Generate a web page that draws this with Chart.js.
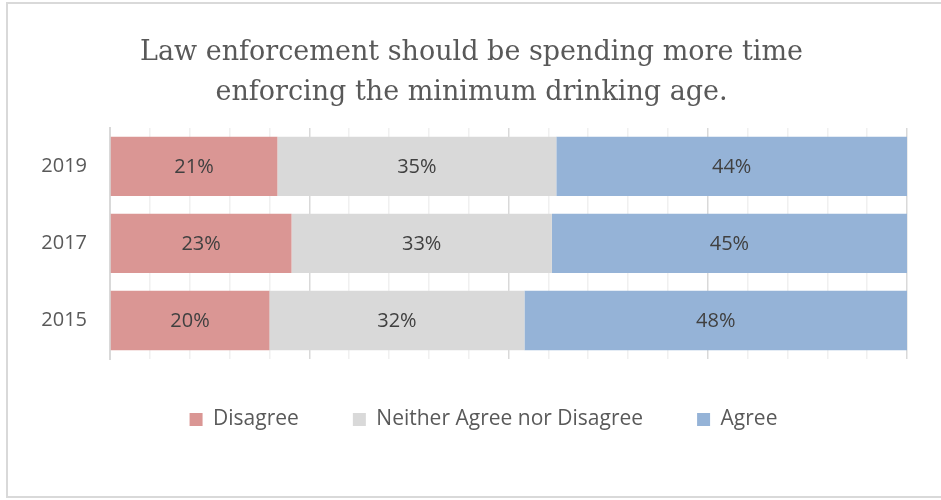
<!DOCTYPE html>
<html lang="en">
<head>
    <meta charset="UTF-8">
    <title>Minimum drinking age survey</title>
    <style>
        body { margin: 0; background: #fff; }
    </style>
</head>
<body>
    <canvas id="grafico" width="941" height="500"></canvas>

    <script src="https://cdn.jsdelivr.net/npm/chart.js"></script>
    <script>
    const anos = ['2019', '2017', '2015'];
    const discorda = [21, 23, 20];
    const neutro = [35, 33, 32];
    const concorda = [44, 45, 48];
    const legendas = ['Disagree', 'Neither Agree nor Disagree', 'Agree'];
    const titulo = ['Law enforcement should be spending more time', 'enforcing the minimum drinking age.'];

    const series = [discorda, neutro, concorda];
    const cores = ['#da9694', '#d9d9d9', '#95b3d7'];

    // 100% stacked: each year scaled so the bar fills the row
    function partes(serie) {
        return serie.map(function(v, i) {
            const total = discorda[i] + neutro[i] + concorda[i];
            return v / total * 100;
        });
    }

    const moldura = {
        id: 'moldura',
        beforeDraw(chart) {
            const c = chart.ctx;
            c.save();
            c.fillStyle = '#fff';
            c.fillRect(0, 0, chart.width, chart.height);
            c.strokeStyle = '#d9d9d9';
            c.lineWidth = 2;
            c.strokeRect(7, 3, 1000, 494);
            c.restore();
        },
        // legenda um pouco mais para a direita e para cima, como no original
        afterLayout(chart) {
            chart.legend.left += 12;
            chart.legend.right += 12;
            chart.legend.top -= 5;
            chart.legend.bottom -= 5;
        }
    };

    const rotulos = {
        id: 'rotulos',
        afterDatasetsDraw(chart) {
            const c = chart.ctx;
            c.save();
            c.font = '20px "Open Sans"';
            c.fillStyle = '#404040';
            c.textAlign = 'center';
            c.textBaseline = 'middle';
            chart.data.datasets.forEach(function(ds, d) {
                chart.getDatasetMeta(d).data.forEach(function(barra, i) {
                    const p = barra.getProps(['x', 'y', 'base'], true);
                    c.fillText(series[d][i] + '%', (p.x + p.base) / 2, p.y + 1);
                });
            });
            c.restore();
        }
    };

    new Chart(document.getElementById('grafico'), {
        type: 'bar',
        data: {
            labels: anos,
            datasets: series.map(function(s, d) {
                return {
                    label: legendas[d],
                    data: partes(s),
                    backgroundColor: cores[d],
                    borderWidth: 0,
                    categoryPercentage: 1,
                    barPercentage: 0.77
                };
            })
        },
        options: {
            indexAxis: 'y',
            responsive: false,
            animation: false,
            layout: { padding: { left: 36, right: 34, top: 0, bottom: 55 } },
            plugins: {
                title: {
                    display: true,
                    text: titulo,
                    color: '#595959',
                    font: { family: '"DejaVu Serif"', size: 27, weight: 'normal', lineHeight: 1.48 },
                    padding: { top: 33, bottom: 15 }
                },
                legend: {
                    position: 'bottom',
                    labels: {
                        color: '#595959',
                        font: { family: '"Open Sans"', size: 21 },
                        boxWidth: 13,
                        boxHeight: 13,
                        padding: 54
                    }
                },
                tooltip: { enabled: false }
            },
            scales: {
                x: {
                    stacked: true,
                    min: 0,
                    max: 100,
                    ticks: { display: false, stepSize: 5 },
                    grid: {
                        drawTicks: false,
                        color: function(ctx) {
                            return ctx.tick && ctx.tick.value % 25 === 0 ? '#d9d9d9' : '#f0f0f0';
                        },
                        lineWidth: 1.5
                    },
                    border: { display: false },
                    afterFit: function(scale) { scale.height = 1; }
                },
                y: {
                    stacked: true,
                    ticks: {
                        color: '#595959',
                        font: { family: '"Open Sans"', size: 20 },
                        padding: 23
                    },
                    grid: { display: false, drawTicks: false },
                    border: { display: true, color: '#d9d9d9', width: 2 },
                    afterFit: function(scale) { scale.width = 74; }
                }
            }
        },
        plugins: [moldura, rotulos]
    });
    </script>
</body>
</html>
